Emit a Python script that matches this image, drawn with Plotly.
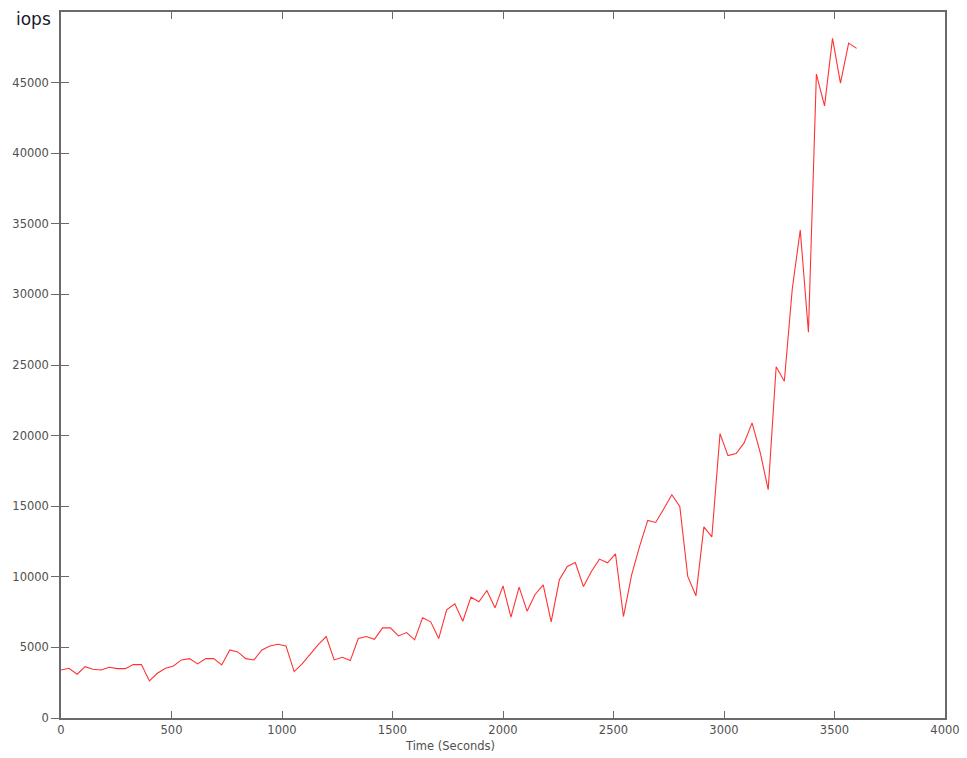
import plotly.graph_objects as go

time_s = [0, 36, 73, 109, 145, 182, 218, 255, 291, 327, 364, 400, 436, 473, 509, 545,
          582, 618, 655, 691, 727, 764, 800, 836, 873, 909, 945, 982, 1018, 1055, 1091,
          1127, 1164, 1200, 1236, 1273, 1309, 1345, 1382, 1418, 1455, 1491, 1527, 1564,
          1600, 1636, 1673, 1709, 1745, 1782, 1818, 1855, 1891, 1927, 1964, 2000, 2036,
          2073, 2109, 2145, 2182, 2218, 2255, 2291, 2327, 2364, 2400, 2436, 2473, 2509,
          2545, 2582, 2618, 2655, 2691, 2727, 2764, 2800, 2836, 2873, 2909, 2945, 2982,
          3018, 3055, 3091, 3127, 3164, 3200, 3236, 3273, 3309, 3345, 3382, 3418, 3455,
          3491, 3527, 3564, 3600]

iops = [3404, 3525, 3099, 3638, 3454, 3404, 3596, 3496, 3496, 3780, 3780, 2624, 3170,
        3525, 3688, 4113, 4206, 3830, 4206, 4206, 3759, 4823, 4681, 4206, 4113, 4823,
        5106, 5224, 5106, 3286, 3830, 4500, 5200, 5767, 4113, 4301, 4065, 5626, 5767,
        5578, 6383, 6383, 5815, 6052, 5532, 7092, 6808, 5626, 7659, 8085, 6855, 8558,
        8227, 9030, 7801, 9361, 7139, 9267, 7565, 8747, 9432, 6808, 9787, 10732, 11015,
        9314, 10378, 11253, 10990, 11631, 7186, 10142, 12151, 13994, 13852, 14800, 15815,
        14986, 10024, 8652, 13540, 12830, 20141, 18581, 18723, 19482, 20900, 18800, 16170,
        24872, 23851, 30400, 34560, 27327, 45600, 43355, 48130, 44963, 47800, 47424]

x_ticks = [0, 500, 1000, 1500, 2000, 2500, 3000, 3500, 4000]
y_ticks = [0, 5000, 10000, 15000, 20000, 25000, 30000, 35000, 40000, 45000]

axis_col = "#6a6a6a"
lab_col = "#505050"
font_fam = "DejaVu Sans"

fig = go.Figure()
fig.add_trace(go.Scatter(x=time_s, y=iops, mode="lines",
                         line=dict(color="#ff3333", width=1.1),
                         showlegend=False, hoverinfo="x+y"))
fig.add_trace(go.Scatter(x=[None], y=[None], yaxis="y2", showlegend=False,
                         hoverinfo="skip"))

fig.update_layout(
    width=967, height=758, autosize=False,
    margin=dict(l=61, r=22, t=12, b=40, autoexpand=False),
    paper_bgcolor="white", plot_bgcolor="white",
    font=dict(family=font_fam, size=11.5, color=lab_col),
    xaxis=dict(range=[0, 4000], tickvals=x_ticks, ticktext=[str(v) for v in x_ticks],
               ticks="inside", ticklen=7, tickcolor=axis_col, tickwidth=1,
               showline=True, linecolor=axis_col, linewidth=1.5, mirror="ticks",
               showgrid=False, zeroline=False, automargin=False,
               tickfont=dict(family=font_fam, size=11.5, color=lab_col)),
    yaxis=dict(range=[0, 50000], tickvals=y_ticks, ticktext=[str(v) for v in y_ticks],
               ticks="outside", ticklen=8, tickcolor=axis_col, tickwidth=1,
               showline=True, linecolor=axis_col, linewidth=1.5, mirror=True,
               showgrid=False, zeroline=False, automargin=False,
               tickfont=dict(family=font_fam, size=11.5, color=lab_col)),
    yaxis2=dict(range=[0, 50000], overlaying="y", side="left", tickvals=y_ticks,
                ticks="inside", ticklen=8, tickcolor=axis_col, tickwidth=1,
                showticklabels=False, showline=False, showgrid=False, zeroline=False),
    annotations=[
        dict(text="iops", xref="paper", yref="paper", x=-0.053, y=0.99,
             xanchor="left", yanchor="middle", showarrow=False,
             font=dict(family=font_fam, size=17, color="#1a1a2a")),
        dict(text="Time (Seconds)", xref="x", yref="paper", x=1760, y=-0.0397,
             xanchor="center", yanchor="middle", showarrow=False,
             font=dict(family=font_fam, size=11.5, color=lab_col)),
    ],
)

fig.write_html("out.html")
